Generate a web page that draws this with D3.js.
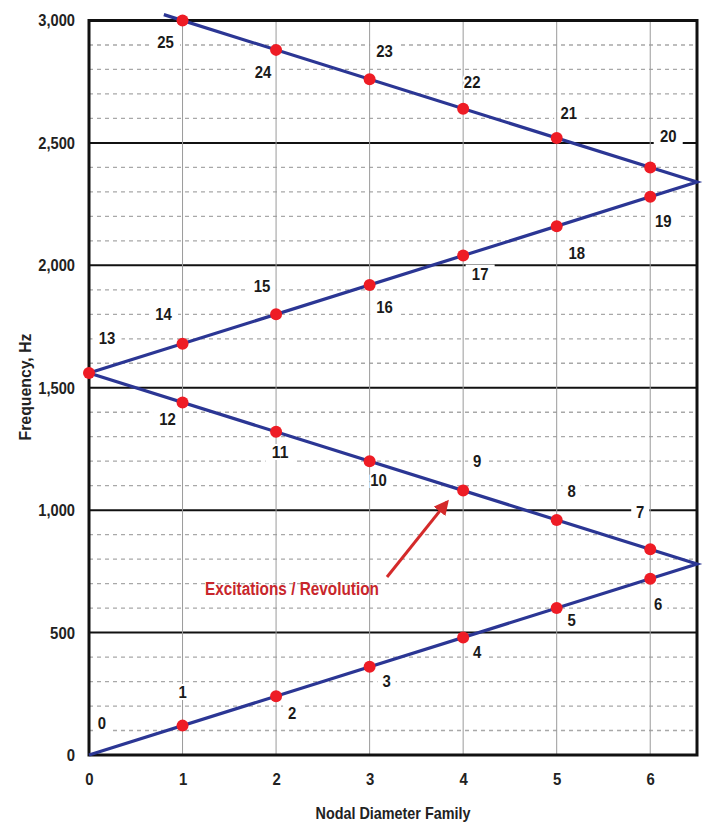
<!DOCTYPE html>
<html><head><meta charset="utf-8">
<script src="https://d3js.org/d3.v7.min.js"></script>
<style>
body{margin:0;background:#fff;}
text{font-family:"Liberation Sans Narrow","Arial Narrow","Liberation Sans",Arial,sans-serif;font-weight:bold;}
</style></head>
<body><svg id="chart" width="704" height="825"></svg>
<script>
// ---- data ----
const excitations = [0,1,2,3,4,5,6,7,8,9,10,11,12,13,14,15,16,17,18,19,20,21,22,23,24,25];
const nodalDiameter = [0,1,2,3,4,5,6,6,5,4,3,2,1,0,1,2,3,4,5,6,6,5,4,3,2,1];
const frequency = [0,120,240,360,480,600,720,840,960,1080,1200,1320,1440,1560,1680,1800,1920,2040,2160,2280,2400,2520,2640,2760,2880,3000];
const lineX = [0,6.5,0,6.5,0.8];
const lineY = [0,780,1560,2340,3024];
const xTicks = [0,1,2,3,4,5,6];
const yMajorTicks = [0,500,1000,1500,2000,2500,3000];
const yMinorTicks = d3.range(100,3000,100).filter(v=>v%500!==0);
// label offsets (pixels) relative to each point
const labelDX = [13,0,16,17,14,15,8,-10,15,14,9,4,-15,18,-19,-14,15,17,20,13,18,12,9,15,-13,-17];
const labelDY = [-32,-33,17,15,15,12,26,-37,-28,-29,19,21,17,-35,-29,-28,23,19,27,25,-31,-25,-26,-28,23,22];

const svg = d3.select("#chart");
const L=89, R=697, T=20.5, B=755;
const x = d3.scaleLinear().domain([0,6.5]).range([L,R]);
const y = d3.scaleLinear().domain([0,3000]).range([B,T]);
// condensed width for numeric strings
const condW = s => [...String(s)].reduce((a,c)=>a+(c===","?3.5:8.3),0);

// minor dashed grid
svg.append("g").selectAll("line").data(yMinorTicks).join("line")
  .attr("x1",L).attr("x2",R).attr("y1",d=>y(d)).attr("y2",d=>y(d))
  .attr("stroke","#a8a8a8").attr("stroke-width",1.3).attr("stroke-dasharray","4,4");
// major horizontal lines
svg.append("g").selectAll("line").data(yMajorTicks).join("line")
  .attr("x1",L).attr("x2",R).attr("y1",d=>y(d)).attr("y2",d=>y(d))
  .attr("stroke","#111").attr("stroke-width",2);

const pts = excitations.map((e,i)=>({e, n:nodalDiameter[i], f:frequency[i], dx:labelDX[i], dy:labelDY[i]}));
// white boxes behind labels (interrupt horizontal grid lines)
svg.append("g").selectAll("rect").data(pts).join("rect")
  .attr("x",p=>x(p.n)+p.dx-(String(p.e).length*11+7)/2).attr("y",p=>y(p.f)+p.dy-10)
  .attr("width",p=>String(p.e).length*11+7).attr("height",20).attr("fill","#fff");

// vertical grid
svg.append("g").selectAll("line").data(xTicks.slice(1)).join("line")
  .attr("x1",d=>x(d)).attr("x2",d=>x(d)).attr("y1",T).attr("y2",B)
  .attr("stroke","#9a9a9a").attr("stroke-width",1);

// axes (tick labels)
const fmtY = d3.format(",");
const yAxis = d3.axisLeft(y).tickValues(yMajorTicks).tickFormat(fmtY).tickSize(0).tickPadding(14);
const gy = svg.append("g").attr("transform",`translate(${L},0)`).call(yAxis);
gy.select(".domain").remove();
gy.selectAll("text").attr("font-size",17).attr("fill","#222")
  .attr("textLength",d=>condW(fmtY(d))).attr("lengthAdjust","spacingAndGlyphs");
const xAxis = d3.axisBottom(x).tickValues(xTicks).tickFormat(d3.format("d")).tickSize(0).tickPadding(18);
const gx = svg.append("g").attr("transform",`translate(0,${B})`).call(xAxis);
gx.select(".domain").remove();
gx.selectAll("text").attr("font-size",17).attr("fill","#222")
  .attr("textLength",d=>condW(d)).attr("lengthAdjust","spacingAndGlyphs");

// border
svg.append("rect").attr("x",L).attr("y",T).attr("width",R-L).attr("height",B-T)
  .attr("fill","none").attr("stroke","#111").attr("stroke-width",3);

// point labels with white halo
svg.append("g").selectAll("text").data(pts).join("text")
  .attr("x",p=>x(p.n)+p.dx).attr("y",p=>y(p.f)+p.dy)
  .attr("text-anchor","middle").attr("dominant-baseline","central")
  .attr("font-size",17).attr("fill","#1a1a1a")
  .attr("textLength",p=>condW(p.e)).attr("lengthAdjust","spacingAndGlyphs")
  .attr("stroke","#fff").attr("stroke-width",4).attr("paint-order","stroke")
  .text(p=>p.e);

// zigzag line
const lineData = lineX.map((v,i)=>[v,lineY[i]]);
svg.append("path").datum(lineData)
  .attr("d",d3.line().x(d=>x(d[0])).y(d=>y(d[1])))
  .attr("fill","none").attr("stroke","#2b3694").attr("stroke-width",3.2).attr("stroke-linejoin","miter");

// dots
svg.append("g").selectAll("circle").data(pts.filter(p=>p.e>0)).join("circle")
  .attr("cx",d=>x(d.n)).attr("cy",d=>y(d.f)).attr("r",6).attr("fill","#ee1c25");

// annotation
svg.append("defs").append("marker").attr("id","ah").attr("viewBox","0 0 10 10").attr("refX",8).attr("refY",5)
  .attr("markerWidth",5).attr("markerHeight",5).attr("orient","auto")
  .append("path").attr("d","M0,0L10,5L0,10z").attr("fill","#d42a2a");
svg.append("line").attr("x1",387).attr("y1",577).attr("x2",447).attr("y2",502)
  .attr("stroke","#d42a2a").attr("stroke-width",3).attr("marker-end","url(#ah)");
svg.append("text").attr("x",292).attr("y",589).attr("text-anchor","middle").attr("dominant-baseline","central")
  .attr("font-size",18).attr("textLength",174).attr("lengthAdjust","spacingAndGlyphs")
  .attr("fill","#c8262b").text("Excitations / Revolution");

// axis titles
svg.append("text").attr("x",393).attr("y",813).attr("text-anchor","middle").attr("dominant-baseline","central")
  .attr("font-size",17).attr("textLength",155).attr("lengthAdjust","spacingAndGlyphs")
  .attr("fill","#222").text("Nodal Diameter Family");
svg.append("text").attr("transform","translate(25,387) rotate(-90)").attr("text-anchor","middle").attr("dominant-baseline","central")
  .attr("font-size",17).attr("textLength",107).attr("lengthAdjust","spacingAndGlyphs")
  .attr("fill","#222").text("Frequency, Hz");
</script></body></html>
